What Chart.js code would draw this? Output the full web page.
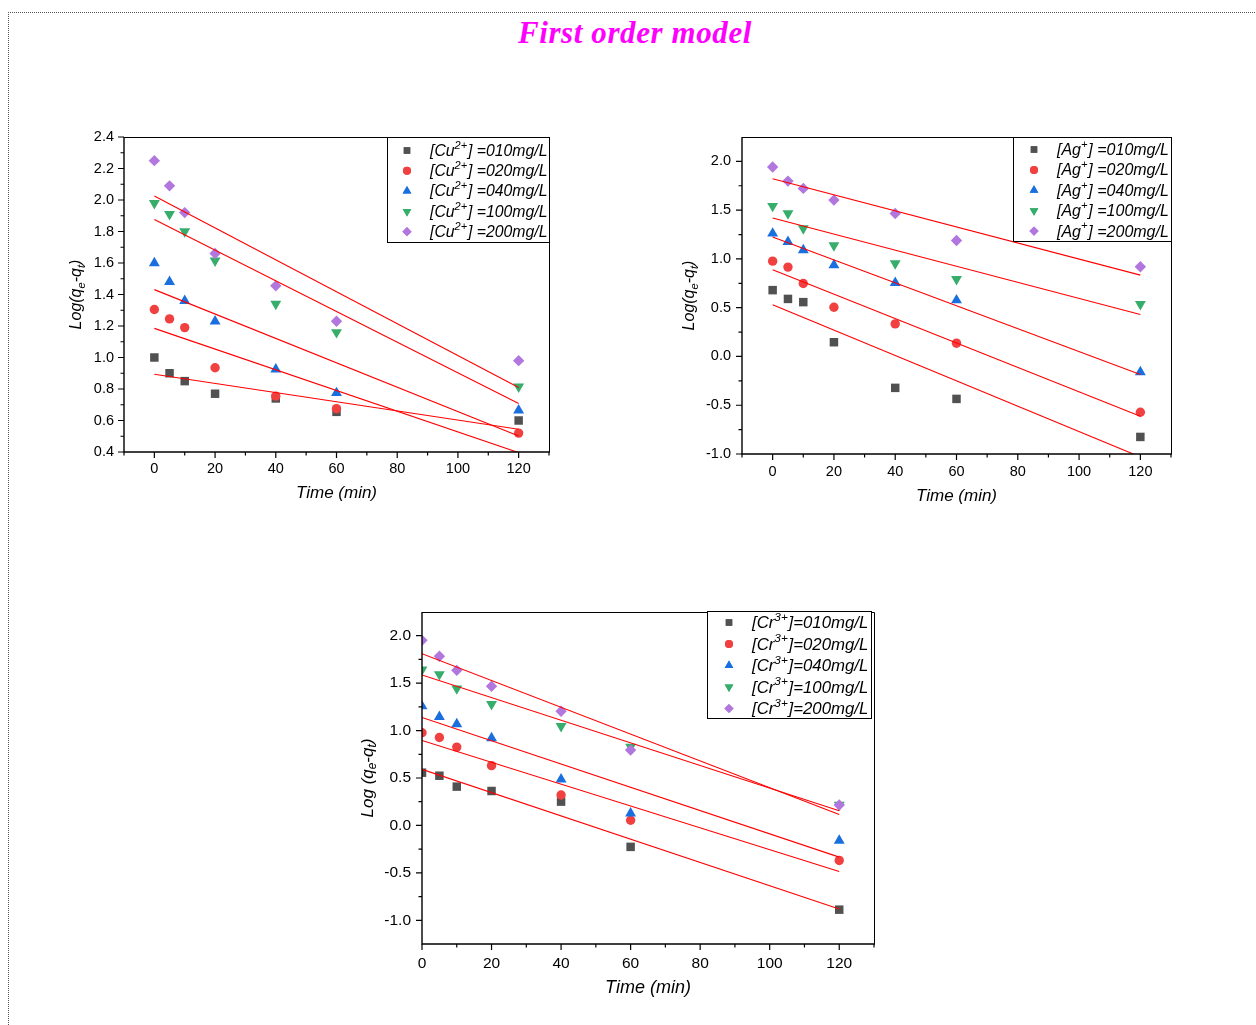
<!DOCTYPE html>
<html>
<head>
<meta charset="utf-8">
<script src="https://cdn.jsdelivr.net/npm/chart.js@4.4.1/dist/chart.umd.min.js"></script>
<style>
  body { margin: 0; width: 1256px; height: 1025px; overflow: hidden; background: #fff; position: relative; }
  #frame { position: absolute; left: 8px; top: 12px; width: 1300px; height: 1100px;
           border-top: 1px dotted #555; border-left: 1px dotted #555; }
  #title { position: absolute; left: 0; width: 1270px; top: 15px; text-align: center; letter-spacing: 0.6px;
           font: italic bold 31px "Liberation Serif", "Times New Roman", serif; color: #ff00ff; }
  canvas { position: absolute; }
</style>
</head>
<body>
<div id="frame"></div>
<div id="title">First order model</div>
<canvas id="cu" width="530" height="420" style="left:40px;top:100px"></canvas>
<canvas id="ag" width="530" height="420" style="left:660px;top:100px"></canvas>
<canvas id="cr" width="560" height="430" style="left:340px;top:590px"></canvas>
<script>
// ---- data ----
const timeMin = [0, 5, 10, 20, 40, 60, 120];
const fitTime = [0, 120];
const concLabels = ["010", "020", "040", "100", "200"];
const xTicks = [0, 20, 40, 60, 80, 100, 120];

// Cu2+
const cu010 = [1.00, 0.90, 0.85, 0.77, 0.74, 0.655, 0.60];
const cu020 = [1.305, 1.245, 1.19, 0.935, 0.755, 0.675, 0.52];
const cu040 = [1.60, 1.48, 1.36, 1.23, 0.925, 0.775, 0.665];
const cu100 = [1.98, 1.91, 1.80, 1.615, 1.34, 1.16, 0.815];
const cu200 = [2.25, 2.09, 1.92, 1.66, 1.455, 1.23, 0.98];
const cuFit010 = [0.894, 0.544];
const cuFit020 = [1.185, 0.396];
const cuFit040 = [1.431, 0.502];
const cuFit100 = [1.876, 0.708];
const cuFit200 = [2.025, 0.81];
const cuYTicks = [0.4, 0.6, 0.8, 1.0, 1.2, 1.4, 1.6, 1.8, 2.0, 2.2, 2.4];

// Ag+
const ag010 = [0.68, 0.59, 0.557, 0.146, -0.322, -0.435, -0.825];
const ag020 = [0.977, 0.916, 0.748, 0.505, 0.334, 0.136, -0.572];
const ag040 = [1.261, 1.176, 1.09, 0.936, 0.755, 0.577, -0.161];
const ag100 = [1.542, 1.466, 1.313, 1.138, 0.953, 0.793, 0.536];
const ag200 = [1.942, 1.798, 1.723, 1.603, 1.466, 1.189, 0.919];
const agFit010 = [0.529, -1.03];
const agFit020 = [0.889, -0.613];
const agFit040 = [1.224, -0.185];
const agFit100 = [1.419, 0.430];
const agFit200 = [1.822, 0.834];
const agYTicks = [-1.0, -0.5, 0.0, 0.5, 1.0, 1.5, 2.0];

// Cr3+
const cr010 = [0.556, 0.524, 0.409, 0.363, 0.251, -0.226, -0.888];
const cr020 = [0.977, 0.927, 0.826, 0.630, 0.321, 0.055, -0.369];
const cr040 = [1.257, 1.145, 1.068, 0.920, 0.486, 0.128, -0.159];
const cr100 = [1.642, 1.593, 1.443, 1.278, 1.047, 0.829, 0.216];
const cr200 = [1.951, 1.783, 1.635, 1.467, 1.204, 0.794, 0.216];
const crFit010 = [0.591, -0.881];
const crFit020 = [0.896, -0.485];
const crFit040 = [1.138, -0.334];
const crFit100 = [1.586, 0.155];
const crFit200 = [1.811, 0.115];
const crYTicks = [-1.0, -0.5, 0.0, 0.5, 1.0, 1.5, 2.0];

// ---- styling ----
const SANS = '"Liberation Sans", Arial, sans-serif';
const seriesColors = ["#515151", "#F14040", "#1A6FDF", "#37AD6B", "#B177DE"];
const markers = [
  { style: "rect", r: 6, rot: 0, lr: 4.6 },
  { style: "circle", r: 4.7, rot: 0, lr: 4 },
  { style: "triangle", r: 6.3, rot: 0, lr: 5 },
  { style: "triangle", r: 6.3, rot: 180, lr: 5 },
  { style: "rectRot", r: 5.7, rot: 0, lr: 4.6 },
];

// 带上下标的文字
function partFont(p, size) {
  const s = p.s ? size * 0.7 : size;
  return `italic ${s}px ${SANS}`;
}
function richWidth(ctx, parts, size) {
  let w = 0;
  parts.forEach((p) => { ctx.font = partFont(p, size); w += ctx.measureText(p.t).width; });
  return w;
}
function drawRich(ctx, parts, x, y, size) {
  ctx.textBaseline = "middle";
  ctx.textAlign = "left";
  let cx = x;
  parts.forEach((p) => {
    ctx.font = partFont(p, size);
    let dy = 0;
    if (p.s === "sup") dy = -size * 0.36;
    if (p.s === "sub") dy = size * 0.28;
    ctx.fillText(p.t, cx, y + dy);
    cx += ctx.measureText(p.t).width + (p.s === "sup" ? 0.8 : 0);
  });
}

// 坐标框、刻度、轴标题和图例
const framePlugin = {
  id: "frameDeco",
  afterDatasetsDraw(chart, args, o) {
    const { ctx, chartArea: a } = chart;
    const xs = chart.scales.x, ys = chart.scales.y;
    ctx.save();
    ctx.strokeStyle = "#000";
    ctx.fillStyle = "#000";

    // top / right border
    ctx.lineWidth = 1;
    ctx.beginPath();
    ctx.moveTo(a.left, a.top + 0.5); ctx.lineTo(a.right + 0.5, a.top + 0.5);
    ctx.lineTo(a.right + 0.5, a.bottom);
    ctx.stroke();
    // axes
    ctx.lineWidth = 1.4;
    ctx.beginPath();
    ctx.moveTo(a.left, a.top); ctx.lineTo(a.left, a.bottom); ctx.lineTo(a.right + 1, a.bottom);
    ctx.stroke();

    // ticks
    ctx.lineWidth = 1.2;
    ctx.beginPath();
    o.xMajor.forEach((v) => { const px = xs.getPixelForValue(v); ctx.moveTo(px, a.bottom); ctx.lineTo(px, a.bottom + 6); });
    o.xMinor.forEach((v) => { const px = xs.getPixelForValue(v); ctx.moveTo(px, a.bottom); ctx.lineTo(px, a.bottom + 3.5); });
    o.yMajor.forEach((v) => { const py = ys.getPixelForValue(v); ctx.moveTo(a.left, py); ctx.lineTo(a.left - 6, py); });
    o.yMinor.forEach((v) => { const py = ys.getPixelForValue(v); ctx.moveTo(a.left, py); ctx.lineTo(a.left - 3.5, py); });
    ctx.stroke();

    // x title
    ctx.font = `italic ${o.xTitleSize}px ${SANS}`;
    ctx.textAlign = "center";
    ctx.textBaseline = "middle";
    ctx.fillText("Time (min)", (a.left + a.right) / 2, o.xTitleY - o.top);

    // y title
    const w = richWidth(ctx, o.yTitle, o.yTitleSize);
    ctx.save();
    ctx.translate(o.yTitleX - o.left, (a.top + a.bottom) / 2);
    ctx.rotate(-Math.PI / 2);
    drawRich(ctx, o.yTitle, -w / 2, 0, o.yTitleSize);
    ctx.restore();

    // legend
    const L = o.legend;
    const bx = L.left - o.left, by = L.top - o.top;
    ctx.fillStyle = "#fff";
    ctx.fillRect(bx, by, L.right - L.left, L.bottom - L.top);
    ctx.lineWidth = 1;
    ctx.strokeStyle = "#000";
    ctx.strokeRect(bx + 0.5, by + 0.5, L.right - L.left, L.bottom - L.top);
    concLabels.forEach((c, k) => {
      const ry = L.row0 + k * L.gap - o.top;
      ctx.fillStyle = seriesColors[k];
      Chart.helpers.drawPoint(ctx, { pointStyle: markers[k].style, radius: markers[k].lr, rotation: markers[k].rot, borderWidth: 0 },
        L.markerX - o.left, ry);
      ctx.fill();
      ctx.fillStyle = "#000";
      drawRich(ctx, o.legendText(c), L.textX - o.left, ry + 1, L.size);
    });
    ctx.restore();
  },
};

function buildDatasets(series, fits) {
  const ds = [];
  fits.forEach((f) => {
    ds.push({
      data: fitTime.map((t, i) => ({ x: t, y: f[i] })),
      showLine: true, borderColor: "#ff0000", borderWidth: 1.1,
      pointRadius: 0, order: 0,
    });
  });
  series.forEach((s, k) => {
    ds.push({
      data: timeMin.map((t, i) => ({ x: t, y: s[i] })),
      showLine: false,
      backgroundColor: seriesColors[k], borderColor: seriesColors[k],
      pointBackgroundColor: seriesColors[k], pointBorderColor: seriesColors[k], pointBorderWidth: 0,
      pointStyle: markers[k].style, pointRadius: markers[k].r, pointRotation: markers[k].rot,
      order: 5 - k,
    });
  });
  return ds;
}

function makeChart(id, c) {
  const canvas = document.getElementById(id);
  new Chart(canvas, {
    type: "scatter",
    data: { datasets: buildDatasets(c.series, c.fits) },
    options: {
      responsive: false,
      animation: false,
      events: [],
      layout: { padding: { left: 0, top: c.padTop, right: c.padRight, bottom: 0 } },
      plugins: { legend: { display: false }, tooltip: { enabled: false }, frameDeco: c.deco },
      scales: {
        x: {
          type: "linear", min: c.xMin, max: 130,
          afterBuildTicks: (s) => { s.ticks = xTicks.map((v) => ({ value: v })); },
          afterFit: (s) => { s.height = c.xH; },
          grid: { display: false, drawTicks: false }, border: { display: false },
          ticks: { color: "#000", font: { family: SANS, size: c.tickSize }, padding: c.xPad,
                   maxRotation: 0, autoSkip: false, callback: (v) => String(v) },
        },
        y: {
          type: "linear", min: c.yMin, max: c.yMax,
          afterBuildTicks: (s) => { s.ticks = c.yTicks.map((v) => ({ value: v })); },
          afterFit: (s) => { s.width = c.yW; },
          grid: { display: false, drawTicks: false }, border: { display: false },
          ticks: { color: "#000", font: { family: SANS, size: c.tickSize }, padding: c.yPad,
                   autoSkip: false, callback: (v) => Number(v).toFixed(1) },
        },
      },
    },
    plugins: [framePlugin],
  });
}

const xMinorAll = [-10, 10, 30, 50, 70, 90, 110, 130];

makeChart("cu", {
  series: [cu010, cu020, cu040, cu100, cu200],
  fits: [cuFit010, cuFit020, cuFit040, cuFit100, cuFit200],
  xMin: -10, yMin: 0.4, yMax: 2.4, yTicks: cuYTicks,
  yW: 84, xH: 68, padTop: 37, padRight: 21, tickSize: 14.5, xPad: 8, yPad: 10,
  deco: {
    left: 40, top: 100,
    xMajor: xTicks, xMinor: xMinorAll,
    yMajor: cuYTicks, yMinor: [0.5, 0.7, 0.9, 1.1, 1.3, 1.5, 1.7, 1.9, 2.1, 2.3],
    xTitleSize: 17, xTitleY: 493,
    yTitleSize: 16, yTitleX: 77,
    yTitle: [{ t: "Log(q" }, { t: "e", s: "sub" }, { t: "-q" }, { t: "t", s: "sub" }, { t: ")" }],
    legend: { left: 387, top: 137, right: 549, bottom: 242, row0: 150.5, gap: 20.3, markerX: 407, textX: 430, size: 15.8 },
    legendText: (c) => [{ t: "[Cu" }, { t: "2+", s: "sup" }, { t: "] =" + c + "mg/L" }],
  },
});

makeChart("ag", {
  series: [ag010, ag020, ag040, ag100, ag200],
  fits: [agFit010, agFit020, agFit040, agFit100, agFit200],
  xMin: -10, yMin: -1.0, yMax: 2.25, yTicks: agYTicks,
  yW: 82, xH: 66, padTop: 37, padRight: 19, tickSize: 14.5, xPad: 9, yPad: 11,
  deco: {
    left: 660, top: 100,
    xMajor: xTicks, xMinor: xMinorAll,
    yMajor: agYTicks, yMinor: [-0.75, -0.25, 0.25, 0.75, 1.25, 1.75],
    xTitleSize: 17, xTitleY: 496,
    yTitleSize: 16, yTitleX: 690,
    yTitle: [{ t: "Log(q" }, { t: "e", s: "sub" }, { t: "-q" }, { t: "t", s: "sub" }, { t: ")" }],
    legend: { left: 1013, top: 137, right: 1171, bottom: 241, row0: 149.5, gap: 20.4, markerX: 1034, textX: 1057, size: 16 },
    legendText: (c) => [{ t: "[Ag" }, { t: "+", s: "sup" }, { t: "] =" + c + "mg/L" }],
  },
});

makeChart("cr", {
  series: [cr010, cr020, cr040, cr100, cr200],
  fits: [crFit010, crFit020, crFit040, crFit100, crFit200],
  xMin: 0, yMin: -1.25, yMax: 2.25, yTicks: crYTicks,
  yW: 82, xH: 76, padTop: 22, padRight: 26, tickSize: 15.5, xPad: 10, yPad: 11,
  deco: {
    left: 340, top: 590,
    xMajor: xTicks, xMinor: [10, 30, 50, 70, 90, 110, 130],
    yMajor: crYTicks, yMinor: [-0.75, -0.25, 0.25, 0.75, 1.25, 1.75],
    xTitleSize: 18, xTitleY: 988,
    yTitleSize: 17, yTitleX: 368,
    yTitle: [{ t: "Log (q" }, { t: "e", s: "sub" }, { t: "-q" }, { t: "t", s: "sub" }, { t: ")" }],
    legend: { left: 707, top: 611, right: 871, bottom: 718, row0: 622.5, gap: 21.5, markerX: 729, textX: 752, size: 16.8 },
    legendText: (c) => [{ t: "[Cr" }, { t: "3+", s: "sup" }, { t: "]=" + c + "mg/L" }],
  },
});
</script>
</body>
</html>
